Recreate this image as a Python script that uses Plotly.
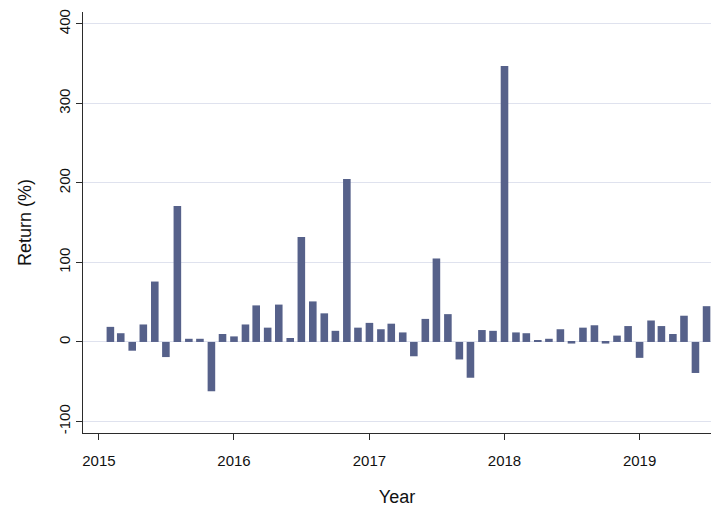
import plotly.graph_objects as go

months = [
    "2015-02", "2015-03", "2015-04", "2015-05", "2015-06", "2015-07", "2015-08", "2015-09", "2015-10", "2015-11", "2015-12",
    "2016-01", "2016-02", "2016-03", "2016-04", "2016-05", "2016-06", "2016-07", "2016-08", "2016-09", "2016-10", "2016-11", "2016-12",
    "2017-01", "2017-02", "2017-03", "2017-04", "2017-05", "2017-06", "2017-07", "2017-08", "2017-09", "2017-10", "2017-11", "2017-12",
    "2018-01", "2018-02", "2018-03", "2018-04", "2018-05", "2018-06", "2018-07", "2018-08", "2018-09", "2018-10", "2018-11", "2018-12",
    "2019-01", "2019-02", "2019-03", "2019-04", "2019-05", "2019-06", "2019-07",
]
returns = [
    19, 11, -11, 22, 76, -19, 171, 4, 4, -62, 10,
    7, 22, 46, 18, 47, 5, 132, 51, 36, 14, 205, 18,
    24, 16, 23, 12, -18, 29, 105, 35, -22, -45, 15, 14,
    347, 12, 11, 2, 4, 16, -2, 18, 21, -2, 8, 20,
    -20, 27, 20, 10, 33, -39, 45,
]
year_ticks = ["2015-01-01", "2016-01-01", "2017-01-01", "2018-01-01", "2019-01-01"]
year_labels = ["2015", "2016", "2017", "2018", "2019"]
y_ticks = [-100, 0, 100, 200, 300, 400]
y_labels = ["-100", "0", "100", "200", "300", "400"]

font = "Liberation Sans, Arial, Helvetica, sans-serif"
bar_color = "#56618A"
grid_color = "#DFE2EE"
axis_color = "#2B2B2B"

fig = go.Figure(
    go.Bar(
        x=[m + "-01" for m in months],
        y=returns,
        marker=dict(color=bar_color, line=dict(width=0)),
        width=20.5 * 86400000,
    )
)

fig.update_layout(
    width=711,
    height=507,
    margin=dict(l=83, r=0, t=12, b=74),
    paper_bgcolor="white",
    plot_bgcolor="white",
    showlegend=False,
    font=dict(family=font, color="#111111"),
)

fig.update_xaxes(
    type="date",
    range=["2014-11-19", "2019-07-13"],
    tickvals=year_ticks,
    ticktext=year_labels,
    ticks="outside",
    ticklen=6,
    tickwidth=1.2,
    tickcolor=axis_color,
    ticklabelstandoff=8,
    showline=True,
    linecolor=axis_color,
    linewidth=1.3,
    showgrid=False,
    zeroline=False,
    automargin=False,
    tickfont=dict(size=15, family=font, color="#111111"),
    title=dict(text="Year", font=dict(size=18, family=font, color="#111111"), standoff=28),
)

fig.update_yaxes(
    range=[-114.5, 415],
    tickvals=y_ticks,
    ticktext=y_labels,
    ticks="outside",
    ticklen=6,
    tickwidth=1.2,
    tickcolor=axis_color,
    tickangle=-90,
    showline=True,
    linecolor=axis_color,
    linewidth=1.3,
    showgrid=True,
    gridcolor=grid_color,
    gridwidth=1.2,
    zeroline=False,
    automargin=False,
    tickfont=dict(size=15, family=font, color="#111111"),
    title=dict(text="Return (%)", font=dict(size=18, family=font, color="#111111"), standoff=19),
)

fig.write_html("out.html")
